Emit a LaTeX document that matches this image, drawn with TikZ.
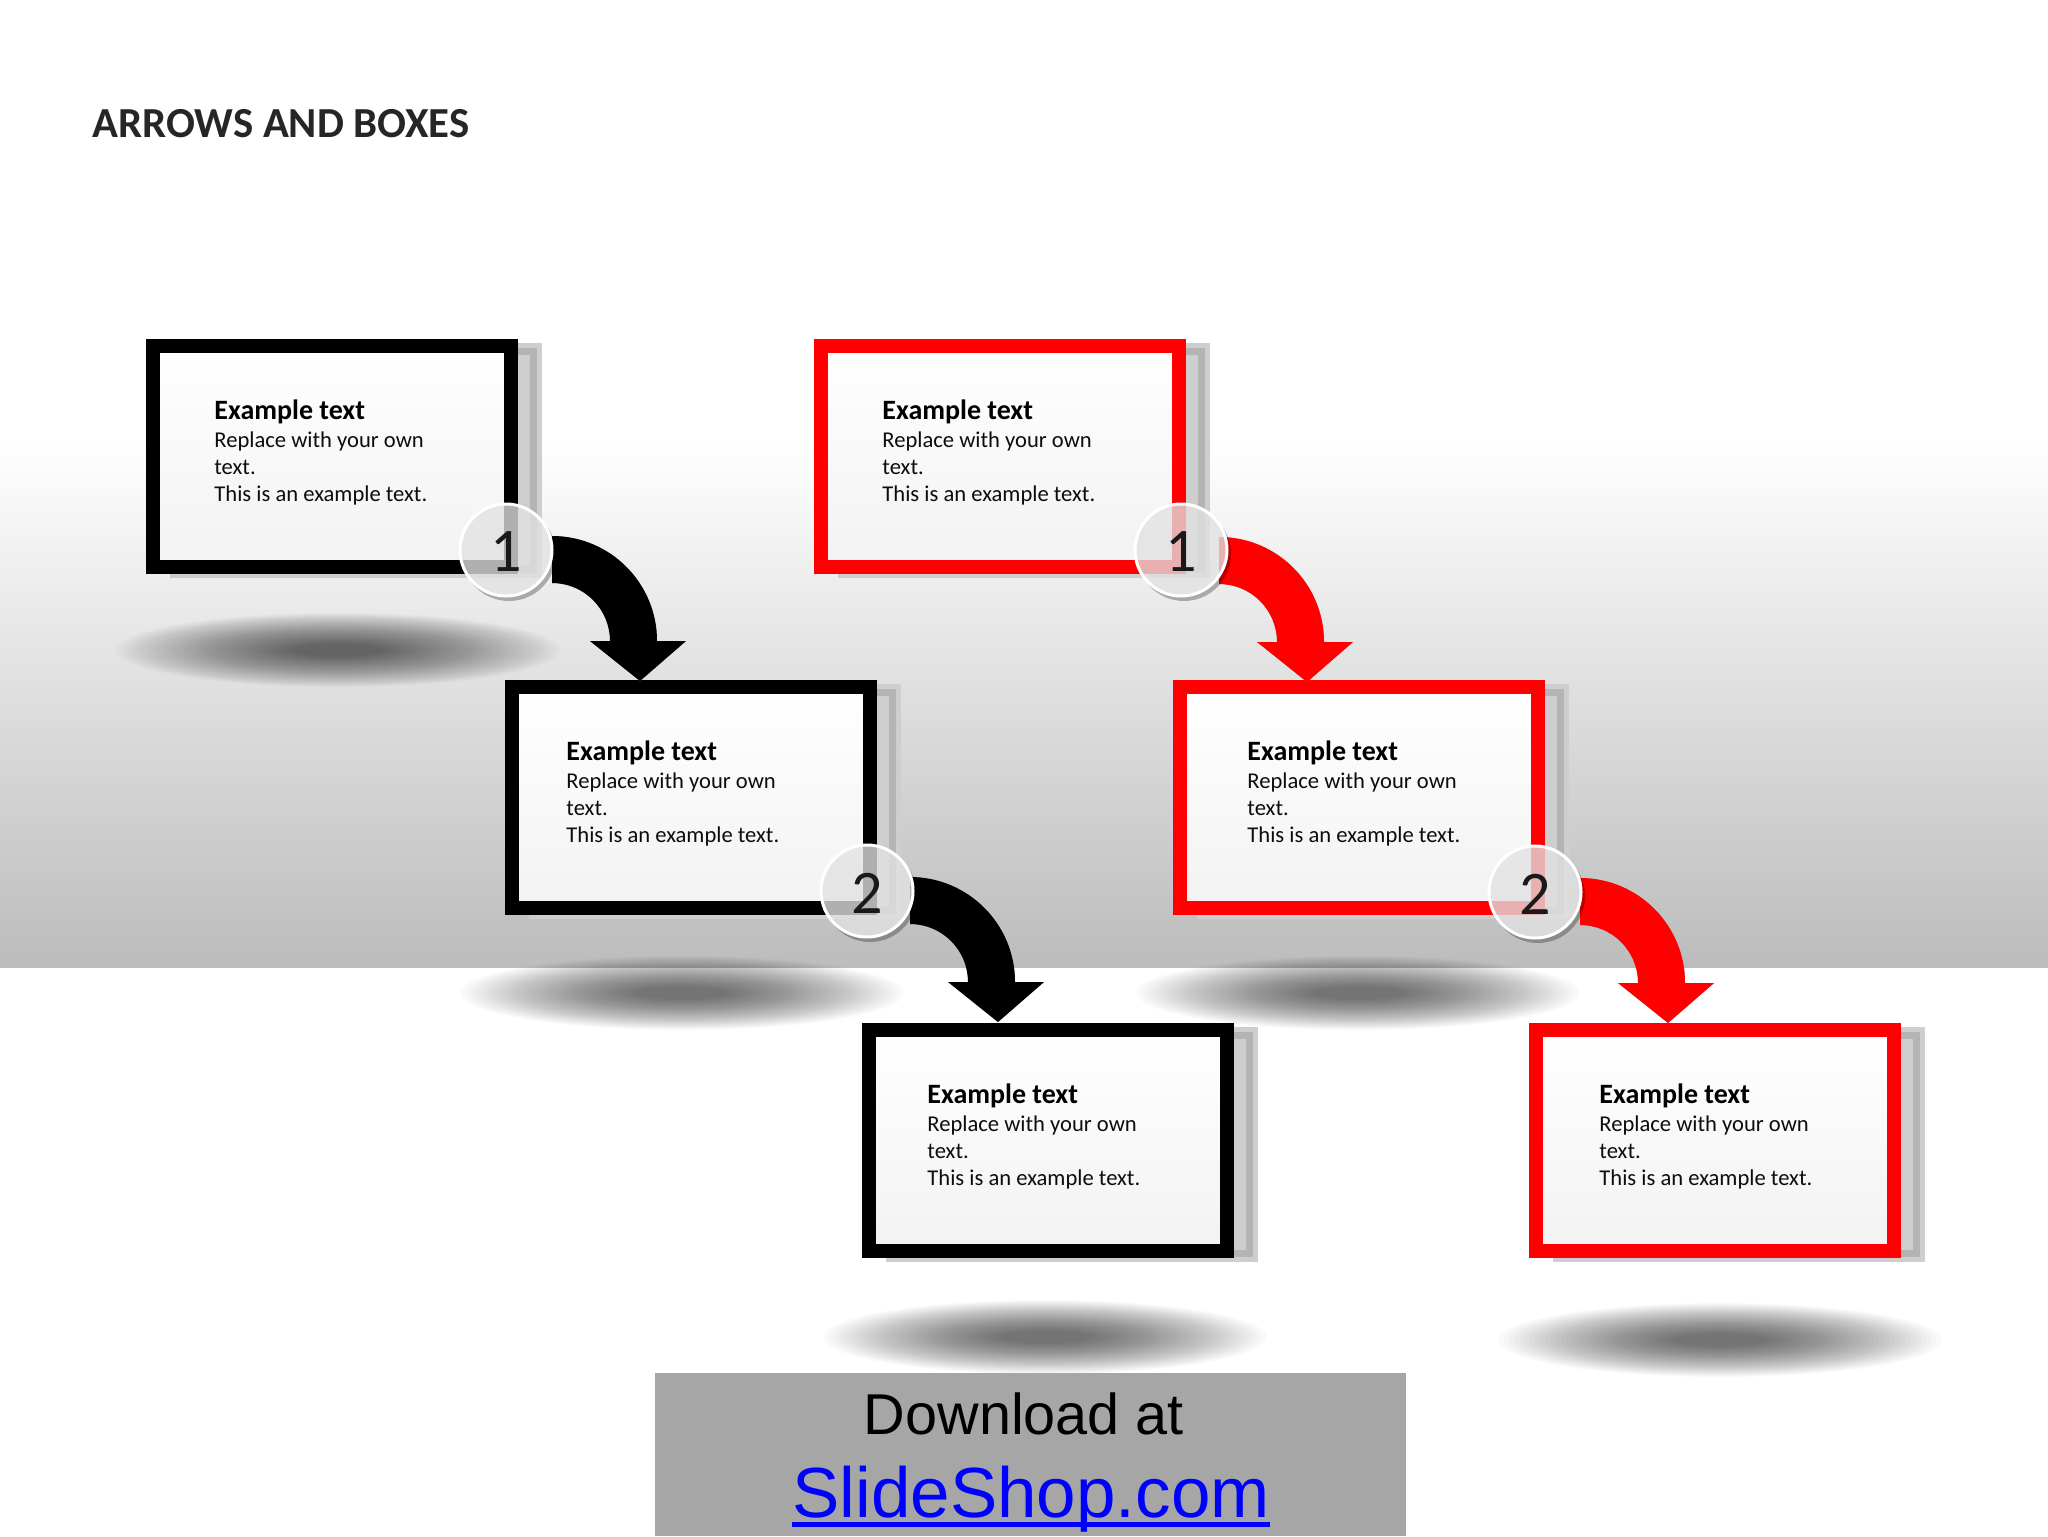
\documentclass[tikz,border=0pt]{standalone}
\usepackage{fontspec}
\setmainfont{Carlito}
\newfontfamily\arialf{Liberation Sans}
\definecolor{bgbot}{HTML}{BCBCBC}
\definecolor{shgray}{HTML}{CECECE}
\definecolor{shdark}{HTML}{B4B4B4}
\definecolor{titlegray}{HTML}{262626}
\definecolor{bannergray}{HTML}{A6A6A6}
\definecolor{glass}{HTML}{E2E2E2}
\definecolor{redc}{HTML}{FF0000}
\definecolor{linkblue}{HTML}{0000FF}
\tikzset{
  cardtitle/.style={anchor=base west, inner sep=0pt, text=black, font=\bfseries\fontsize{14}{16}\selectfont},
  cardbody/.style={anchor=base west, inner sep=0pt, text=black!95, font=\fontsize{11.3}{13}\selectfont},
  discnum/.style={inner sep=0pt, text=black!90, font=\fontsize{31}{33}\selectfont},
  shadowlayer/.style={fill=black, fill opacity=0.019},
}
% #1 name, #2 X, #3 Y, #4 colour, #5 text x
\newcommand{\cardbox}[5]{%
  \fill[shgray] (#2+24,#3+4) rectangle (#2+396,#3+239);
  \draw[shdark, line width=3.5pt] (#2+32.5,#3+12.5) rectangle (#2+387.5,#3+230.5);
  \shade[top color=white, bottom color=black!5] (#2+7,#3+7) rectangle (#2+365,#3+228);
  \draw[#4, line width=7pt] (#2+7,#3+7) rectangle (#2+365,#3+228);
  \node[cardtitle] (#1-t) at (#5,#3+80) {Example text};
  \node[cardbody] (#1-a) at (#5,#3+108.5) {Replace with your own};
  \node[cardbody] (#1-b) at (#5,#3+135.5) {text.};
  \node[cardbody] (#1-c) at (#5,#3+162.5) {This is an example text.};
}
% soft floor shadow: #1 x, #2 y
\newcommand{\floorshadow}[2]{%
  \foreach \k in {0,...,34} {
    \fill[shadowlayer] (#1,#2) ellipse ({222-5.2*\k} and {37-0.9*\k});
  }
}
% #1 centre coordinate name, #2 colour
\newcommand{\cardarrow}[2]{%
  \fill[black!40, shift={(3,3)}] ([shift={(0,-105)}]#1) arc[start angle=-90, end angle=0, radius=105] -- ([shift={(134,0)}]#1) -- ([shift={(88,40)}]#1) -- ([shift={(38,0)}]#1) -- ([shift={(58,0)}]#1) arc[start angle=0, end angle=-90, radius=58] -- cycle;
  \fill[#2] ([shift={(0,-105)}]#1) arc[start angle=-90, end angle=0, radius=105] -- ([shift={(134,0)}]#1) -- ([shift={(88,40)}]#1) -- ([shift={(38,0)}]#1) -- ([shift={(58,0)}]#1) arc[start angle=0, end angle=-90, radius=58] -- cycle;
}
% #1 name, #2 x, #3 y, #4 number
\newcommand{\carddisc}[4]{%
  \begin{scope}[even odd rule]
    \clip (0,0) rectangle (2048,1536) (#2,#3) circle (47);
    \fill[black, opacity=0.28] (#2+3,#3+4) circle (47);
  \end{scope}
  \fill[glass, fill opacity=0.78] (#2,#3) circle (46);
  \draw[white, line width=1.5pt] (#2,#3) circle (46);
  \node[discnum] (#1) at (#2,#3+2) {#4};
}
\begin{document}
\begin{tikzpicture}[x=0.5pt, y=-0.5pt]
\useasboundingbox (0,0) rectangle (2048,1536);
\fill[white] (0,0) rectangle (2048,1536);
\shade[top color=white, bottom color=bgbot] (0,440) rectangle (2048,967);

\node[anchor=base west, inner sep=0pt, text=titlegray, font=\bfseries\fontsize{21.4}{25}\selectfont] (title) at (92,137) {ARROWS AND BOXES};

% floor shadows
\floorshadow{338}{650}
\floorshadow{682}{993}
\floorshadow{1045}{1337}
\floorshadow{1358}{993}
\floorshadow{1720}{1340}

% boxes
\cardbox{b1}{146}{339}{black}{214}
\cardbox{b2}{505}{680}{black}{566}
\cardbox{b3}{862}{1023}{black}{927}
\cardbox{r1}{814}{339}{redc}{882}
\cardbox{r2}{1173}{680}{redc}{1247}
\cardbox{r3}{1529}{1023}{redc}{1599}

% arrows
\coordinate (ab1) at (552,641);
\coordinate (ab2) at (910,982);
\coordinate (ar1) at (1219,642);
\coordinate (ar2) at (1580,983);
\cardarrow{ab1}{black}
\cardarrow{ab2}{black}
\cardarrow{ar1}{redc}
\cardarrow{ar2}{redc}

% numbered discs
\carddisc{nb1}{506}{550}{1}
\carddisc{nb2}{867}{891}{2}
\carddisc{nr1}{1181}{550}{1}
\carddisc{nr2}{1535}{892}{2}

% banner
\fill[bannergray] (655,1373) rectangle (1406,1536);
\node[anchor=base, inner sep=0pt, font=\arialf\fontsize{28.8}{31}\selectfont, text=black] (dl) at (1024,1434) {Download at};
\node[anchor=base, inner sep=0pt, font=\arialf\fontsize{35.5}{38}\selectfont, text=linkblue] (ss) at (1031,1517) {SlideShop.com};
\draw[linkblue, line width=2.4pt] ([yshift=-3.8pt]ss.base west) -- ([yshift=-3.8pt]ss.base east);
\end{tikzpicture}
\end{document}
